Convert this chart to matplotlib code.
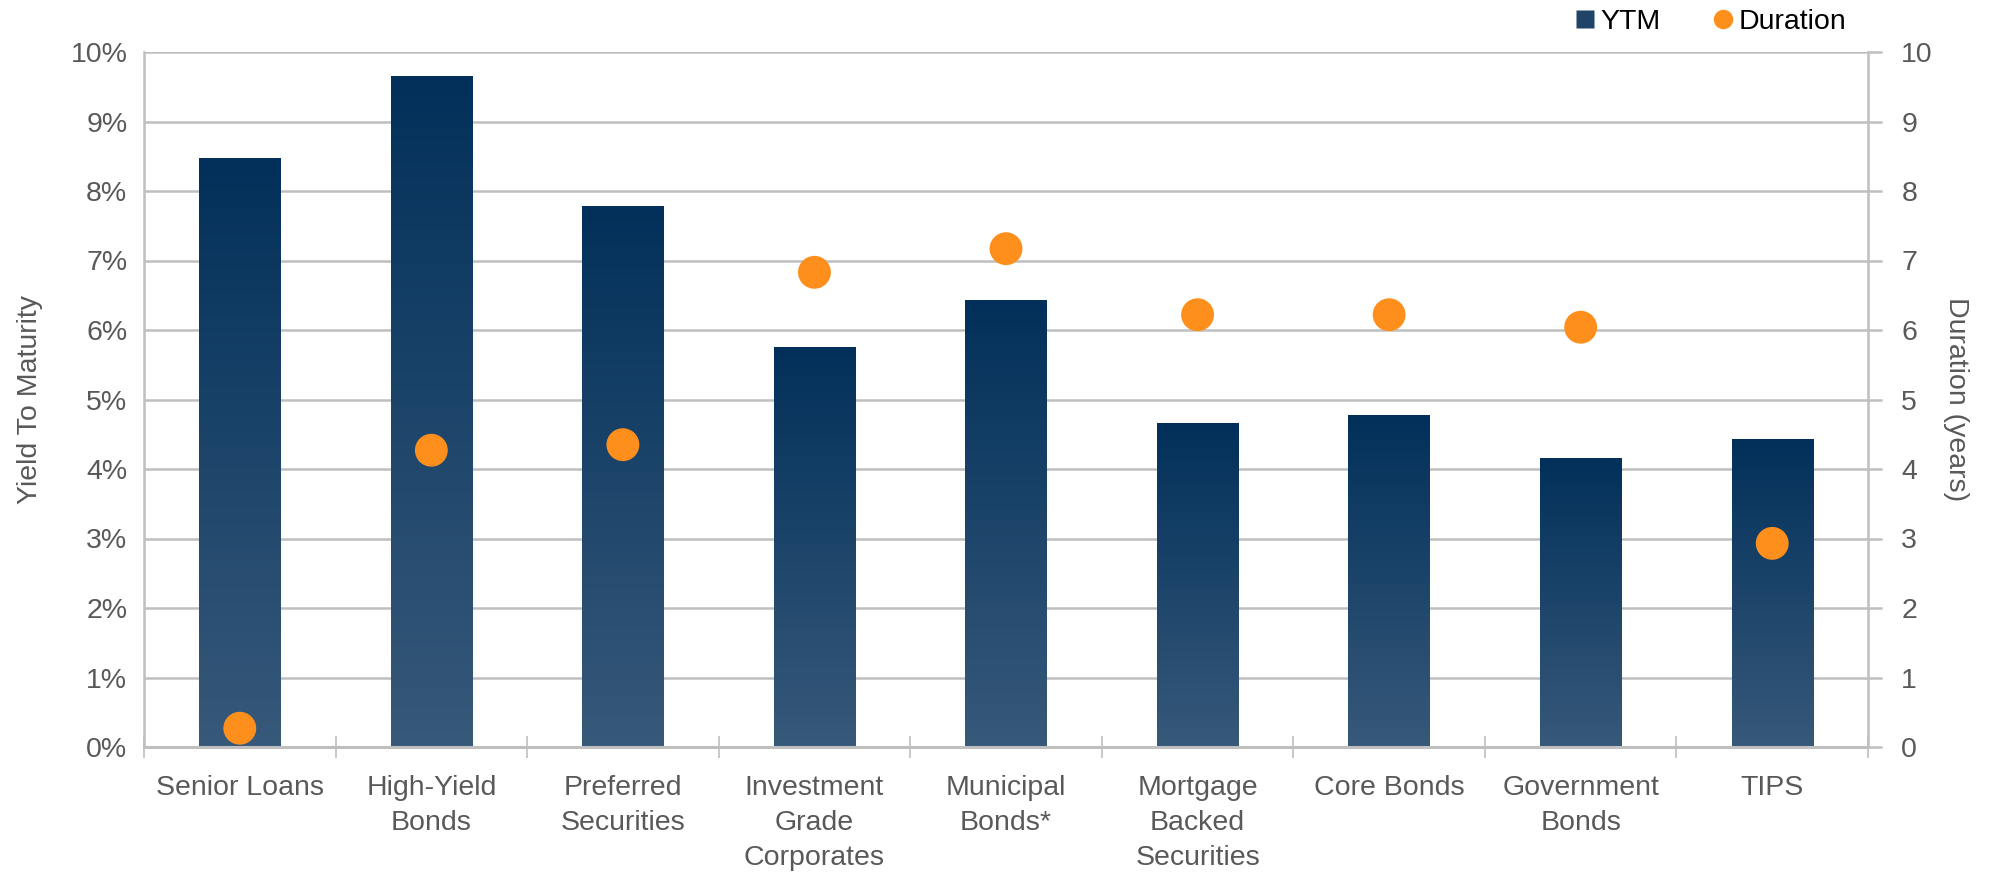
import numpy as np
import matplotlib
matplotlib.use('Agg')
import matplotlib.pyplot as plt
from matplotlib.colors import LinearSegmentedColormap
from matplotlib.lines import Line2D

plt.rcParams['font.family'] = ['Liberation Sans', 'DejaVu Sans']

categories = ['Senior Loans', 'High-Yield\nBonds', 'Preferred\nSecurities',
              'Investment\nGrade\nCorporates', 'Municipal\nBonds*',
              'Mortgage\nBacked\nSecurities', 'Core Bonds', 'Government\nBonds', 'TIPS']
ytm = [8.47, 9.65, 7.79, 5.76, 6.43, 4.66, 4.77, 4.16, 4.43]
duration = [0.27, 4.27, 4.35, 6.83, 7.17, 6.22, 6.22, 6.04, 2.93]

grid_col = '#BFBFBF'
text_col = '#595959'
orange = '#FF8F1C'
bar_cmap = LinearSegmentedColormap.from_list('ytm', ['#37597A', '#02305A'])
fs = 20.5

fig = plt.figure(figsize=(19.9, 8.76), dpi=100)
ax = fig.add_axes([144 / 1990, 1 - 747 / 876, (1868 - 144) / 1990, (747 - 52) / 876])
x = np.arange(len(categories))

ax.set_axisbelow(True)
ax.yaxis.grid(True, color=grid_col, linewidth=1.8)

# bars with a vertical gradient, like the original
bars = ax.bar(x, ytm, width=0.425, color='none', edgecolor='none', zorder=2)
grad = np.linspace(0, 1, 256).reshape(-1, 1)
for b in bars:
    x0, y0 = b.get_x(), b.get_y()
    im = ax.imshow(grad, cmap=bar_cmap, origin='lower', aspect='auto',
                   extent=[x0, x0 + b.get_width(), y0, y0 + b.get_height()], zorder=2)
    im.set_clip_path(b)
ax.set_xlim(-0.5, len(categories) - 0.5)
ax.set_ylim(0, 10)

ax.set_yticks(np.arange(0, 11, 1))
ax.set_yticklabels([f'{v}%' for v in range(11)])
ax.tick_params(axis='y', length=0, labelsize=fs, labelcolor=text_col, pad=12)

ax.set_xticks(x)
ax.set_xticklabels(categories, linespacing=1.45)
ax.set_xticks(np.arange(-0.5, len(categories) + 0.5, 1), minor=True)
ax.tick_params(axis='x', which='major', length=0, labelsize=fs, labelcolor=text_col, pad=20)
ax.tick_params(axis='x', which='minor', direction='inout', length=16, width=1.2, color=grid_col)

for s in ['top', 'right']:
    ax.spines[s].set_visible(False)
ax.spines['left'].set_color(grid_col)
ax.spines['left'].set_linewidth(1.8)
ax.spines['bottom'].set_color(grid_col)
ax.spines['bottom'].set_linewidth(2.2)
ax.set_ylabel('Yield To Maturity', fontsize=fs, color=text_col, labelpad=20)

ax2 = ax.twinx()
ax2.set_ylim(0, 10)
ax2.scatter(x, duration, s=560, color=orange, edgecolor='none', zorder=3)
ax2.set_yticks(np.arange(0, 11, 1))
ax2.tick_params(axis='y', length=10, width=1.8, color=grid_col, labelsize=fs,
                labelcolor=text_col, pad=14)
for s in ['top', 'left', 'bottom']:
    ax2.spines[s].set_visible(False)
ax2.spines['right'].set_color(grid_col)
ax2.spines['right'].set_linewidth(1.8)
ax2.set_ylabel('Duration (years)', fontsize=fs, color=text_col, rotation=270, labelpad=26)

handles = [Line2D([], [], marker='s', linestyle='none', markersize=13,
                  markerfacecolor='#1F4468', markeredgecolor='none', label='YTM'),
           Line2D([], [], marker='o', linestyle='none', markersize=14,
                  markerfacecolor=orange, markeredgecolor='none', label='Duration')]
fig.legend(handles=handles, loc='center', bbox_to_anchor=(1710 / 1990, 1 - 22 / 876),
           ncol=2, frameon=False, fontsize=fs, handletextpad=0.15, columnspacing=1.8,
           handlelength=0.8)

fig.savefig('out.png', dpi=100)
